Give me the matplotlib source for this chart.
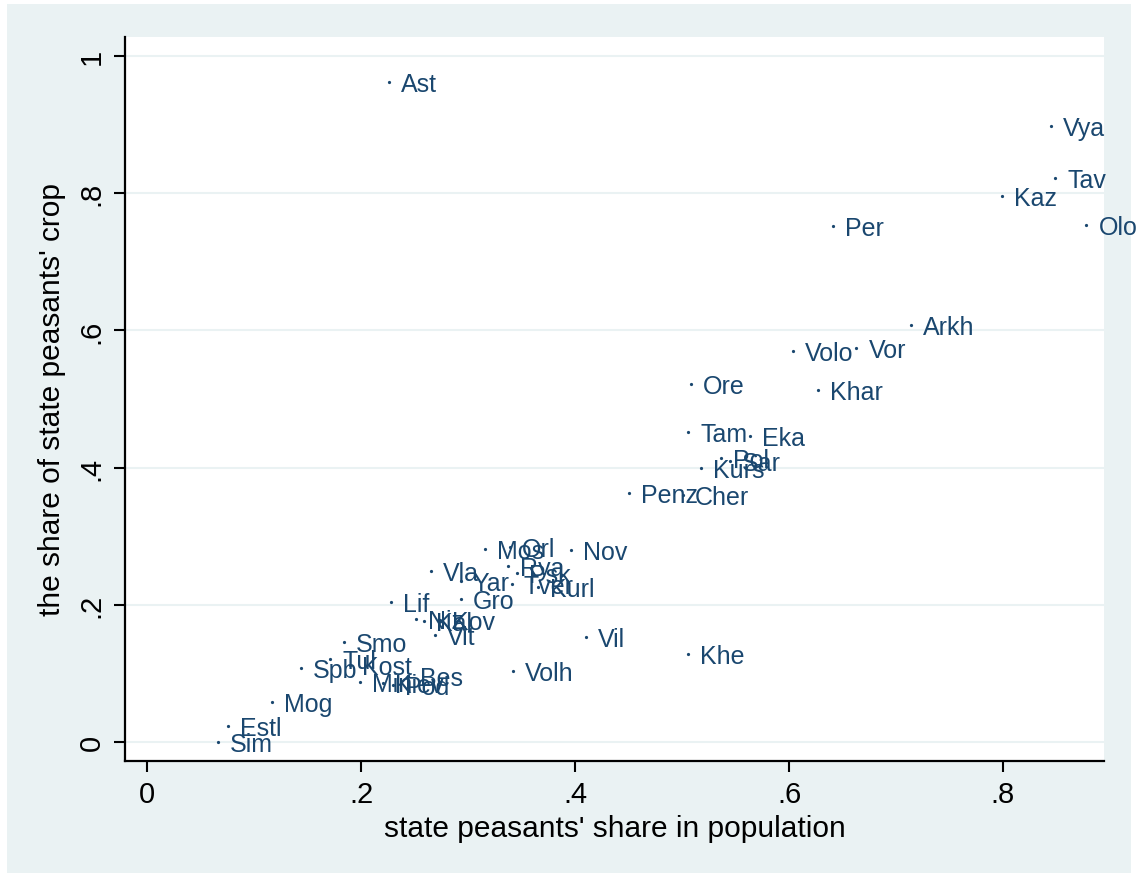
import matplotlib
matplotlib.use("Agg")
import matplotlib.pyplot as plt
from matplotlib.patches import Rectangle
from matplotlib.transforms import offset_copy

plt.rcParams['font.family'] = ['Liberation Sans', 'DejaVu Sans']

labels = ["Ast", "Vya", "Tav", "Kaz", "Olo", "Per", "Arkh", "Volo", "Vor", "Ore",
          "Khar", "Tam", "Eka", "Pol", "Sar", "Kurs", "Penz", "Cher", "Mos", "Orl",
          "Nov", "Rya", "Psk", "Tver", "Kurl", "Vla", "Yar", "Gro", "Lif", "Niz",
          "Kal", "Kov", "Vit", "Vil", "Khe", "Volh", "Smo", "Tul", "Kost", "Spb",
          "Min", "Kiev", "Pod", "Bes", "Mog", "Estl", "Sim"]
pop_share = [0.226, 0.845, 0.849, 0.799, 0.878, 0.641, 0.714, 0.604, 0.663, 0.508,
             0.627, 0.506, 0.564, 0.536, 0.545, 0.518, 0.450, 0.501, 0.316, 0.339,
             0.396, 0.337, 0.346, 0.341, 0.365, 0.265, 0.293, 0.293, 0.228, 0.251,
             0.259, 0.274, 0.269, 0.410, 0.506, 0.342, 0.184, 0.171, 0.190, 0.144,
             0.199, 0.221, 0.230, 0.244, 0.117, 0.076, 0.066]
crop_share = [0.962, 0.898, 0.822, 0.796, 0.754, 0.752, 0.608, 0.570, 0.574, 0.522,
              0.513, 0.452, 0.446, 0.414, 0.410, 0.399, 0.363, 0.360, 0.281, 0.284,
              0.280, 0.257, 0.246, 0.230, 0.226, 0.249, 0.235, 0.208, 0.204, 0.179,
              0.176, 0.178, 0.156, 0.153, 0.128, 0.103, 0.146, 0.121, 0.112, 0.108,
              0.087, 0.086, 0.083, 0.096, 0.058, 0.023, 0.000]

xticks = [0, 0.2, 0.4, 0.6, 0.8]
xticklabels = ["0", ".2", ".4", ".6", ".8"]
yticks = [0, 0.2, 0.4, 0.6, 0.8, 1.0]
yticklabels = ["0", ".2", ".4", ".6", ".8", "1"]

W, H = 1138, 879
fig = plt.figure(figsize=(W / 100, H / 100), dpi=100, facecolor='white')
bg = '#EAF2F3'
fig.patches.append(Rectangle((7 / W, 5 / H), 1 - 14 / W, 1 - 10 / H,
                             transform=fig.transFigure, facecolor=bg,
                             edgecolor='none', zorder=-10))

ax = fig.add_axes([125 / W, (H - 762) / H, (1104 - 125) / W, (762 - 38) / H])
ax.set_facecolor('white')
navy = '#1a476f'

ax.plot(pop_share, crop_share, linestyle='none', marker='o', markersize=1.3,
        color=navy, zorder=3)
tr = offset_copy(ax.transData, fig=fig, x=12, y=-2, units='dots')
for x, y, lab in zip(pop_share, crop_share, labels):
    ax.text(x, y, lab, transform=tr, fontsize=18, color=navy,
            va='center', ha='left', clip_on=False, zorder=4)

ax.set_xlim(-0.0206, 0.8944)
ax.set_ylim(-0.0277, 1.0277)
ax.set_xticks(xticks)
ax.set_xticklabels(xticklabels)
ax.set_yticks(yticks)
ax.set_yticklabels(yticklabels, rotation=90, va='center')
ax.tick_params(axis='both', length=8, width=1.5, labelsize=21, pad=6, colors='black')
ax.grid(axis='y', color=bg, linewidth=1.5, zorder=0)
ax.set_axisbelow(True)
for s in ['top', 'right']:
    ax.spines[s].set_visible(False)
for s in ['left', 'bottom']:
    ax.spines[s].set_linewidth(1.6)
ax.set_xlabel("state peasants' share in population", fontsize=21.5, labelpad=4)
ax.set_ylabel("the share of state peasants' crop", fontsize=21.5, labelpad=8)

fig.savefig('out.png', dpi=100, facecolor='white')
